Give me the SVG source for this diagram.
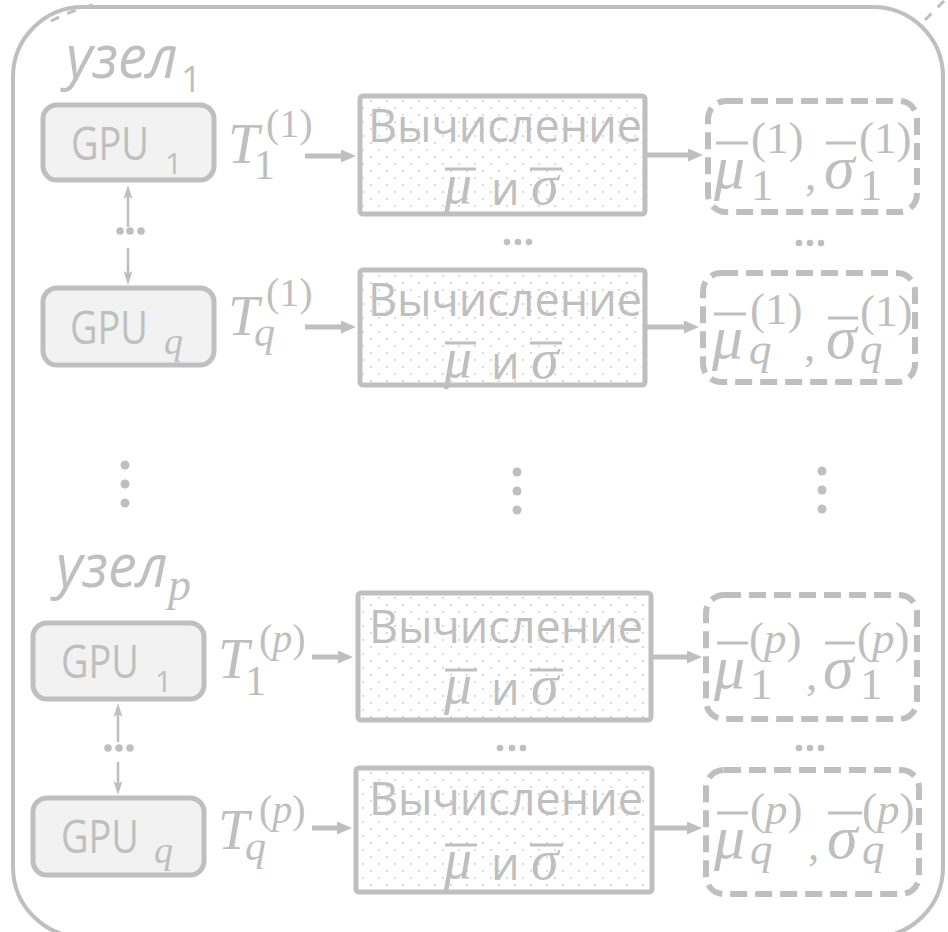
<svg xmlns="http://www.w3.org/2000/svg" width="948" height="932" viewBox="0 0 948 932">
  <style>
    .frame { fill: none; stroke: #bfbfbf; stroke-width: 4; }
    .frag { fill: none; stroke: #bfbfbf; stroke-width: 3; stroke-dasharray: 9 9; }
    .gpu rect { fill: #f2f2f2; stroke: #bfbfbf; stroke-width: 5; }
    .calc rect { fill: url(#dots); stroke: #bfbfbf; stroke-width: 5; }
    .res rect { fill: none; stroke: #bfbfbf; stroke-width: 6; stroke-dasharray: 17 8; }
    .t-sans { font-family: "Open Sans", "DejaVu Sans", sans-serif; fill: #bfbfbf; }
    .t-sans-it { font-family: "Open Sans", "DejaVu Sans", sans-serif; font-style: italic; fill: #bfbfbf; }
    .t-it { font-family: "Liberation Serif", "DejaVu Serif", serif; font-style: italic; fill: #bfbfbf; }
    .t-up { font-family: "Liberation Serif", "DejaVu Serif", serif; font-style: normal; fill: #bfbfbf; }
    .bar { stroke: #bfbfbf; stroke-width: 3; }
    .thick { stroke: #bfbfbf; stroke-width: 5; fill: none; }
    .thin { stroke: #bfbfbf; stroke-width: 2.5; fill: none; }
    .dot { fill: #bfbfbf; }
  </style>
  <defs>
    <pattern id="dots" width="16" height="14" patternUnits="userSpaceOnUse">
      <rect width="16" height="14" fill="#ffffff"/>
      <circle cx="3" cy="3" r="0.9" fill="#c8c8c8"/>
      <circle cx="11" cy="10" r="0.9" fill="#c8c8c8"/>
    </pattern>
    <marker id="arr" markerUnits="userSpaceOnUse" markerWidth="16" markerHeight="14" refX="4" refY="6.5" orient="auto">
      <path d="M0,0 L15,6.5 L0,13 z" fill="#bfbfbf"/>
    </marker>
    <marker id="arr-thin" markerUnits="userSpaceOnUse" markerWidth="15" markerHeight="10" refX="3" refY="4.5" orient="auto">
      <path d="M0,0 L14,4.5 L0,9 L3,4.5 z" fill="#bfbfbf"/>
    </marker>
  </defs>

  <!-- outer cluster frame -->
  <g id="frame">
    <rect class="frame" x="13" y="7" width="930" height="930" rx="70"/>
    <path class="frag" d="M51,21 Q70,11 100,3"/>
    <path class="frag" d="M925,20 L947,-2"/>
  </g>

  <!-- node labels -->
  <g id="label-node1">
    <text class="t-sans-it" x="66" y="78" font-size="60" textLength="112" lengthAdjust="spacingAndGlyphs">узел</text>
    <text class="t-sans" x="181" y="92" font-size="36">1</text>
  </g>
  <g id="label-nodep">
    <text class="t-sans-it" x="56" y="587" font-size="60" textLength="112" lengthAdjust="spacingAndGlyphs">узел</text>
    <text class="t-it" x="168" y="600" font-size="46">p</text>
  </g>

  <!-- GPU nodes -->
  <g id="gpu-1-1" class="gpu">
    <rect x="43" y="105" width="171" height="75" rx="14"/>
    <text class="t-sans" x="71" y="160" font-size="46" textLength="78" lengthAdjust="spacingAndGlyphs">GPU</text>
    <text class="t-sans" x="165" y="174" font-size="30">1</text>
  </g>
  <g id="gpu-1-q" class="gpu">
    <rect x="43" y="288" width="171" height="77" rx="14"/>
    <text class="t-sans" x="70" y="344" font-size="46" textLength="78" lengthAdjust="spacingAndGlyphs">GPU</text>
    <text class="t-it" x="164" y="354" font-size="38">q</text>
  </g>
  <g id="gpu-p-1" class="gpu">
    <rect x="33" y="623" width="171" height="76" rx="14"/>
    <text class="t-sans" x="61" y="678" font-size="46" textLength="78" lengthAdjust="spacingAndGlyphs">GPU</text>
    <text class="t-sans" x="155" y="692" font-size="30">1</text>
  </g>
  <g id="gpu-p-q" class="gpu">
    <rect x="33" y="798" width="171" height="77" rx="14"/>
    <text class="t-sans" x="61" y="853" font-size="46" textLength="78" lengthAdjust="spacingAndGlyphs">GPU</text>
    <text class="t-it" x="154" y="863" font-size="38">q</text>
  </g>

  <!-- input tensor labels -->
  <g id="t-1-1">
    <text class="t-it" x="228" y="163" font-size="56">T</text>
    <text class="t-up" x="254" y="179" font-size="42">1</text>
    <text class="t-up" x="266" y="137" font-size="40">(1)</text>
  </g>
  <g id="t-1-q">
    <text class="t-it" x="228" y="335" font-size="56">T</text>
    <text class="t-it" x="254" y="346" font-size="42">q</text>
    <text class="t-up" x="266" y="306" font-size="40">(1)</text>
  </g>
  <g id="t-p-1">
    <text class="t-it" x="218" y="678" font-size="56">T</text>
    <text class="t-up" x="245" y="695" font-size="42">1</text>
    <text class="t-up" x="259" y="652" font-size="40">(<tspan class="t-it">p</tspan>)</text>
  </g>
  <g id="t-p-q">
    <text class="t-it" x="218" y="849" font-size="56">T</text>
    <text class="t-it" x="245" y="860" font-size="42">q</text>
    <text class="t-up" x="259" y="823" font-size="40">(<tspan class="t-it">p</tspan>)</text>
  </g>

  <!-- computation blocks -->
  <g id="calc-1-1" class="calc">
    <rect x="360" y="96" width="285" height="118" rx="3"/>
    <text class="t-sans" x="368" y="142" font-size="46" textLength="274" lengthAdjust="spacingAndGlyphs">Вычисление</text>
    <text class="t-it" x="444" y="203" font-size="56">μ</text>
    <text class="t-sans" x="491" y="205" font-size="45">и</text>
    <text class="t-it" x="531" y="204" font-size="56">σ</text>
    <line class="bar" x1="445" y1="169" x2="476" y2="169"/>
    <line class="bar" x1="530" y1="169" x2="562" y2="169"/>
  </g>
  <g id="calc-1-q" class="calc">
    <rect x="360" y="270" width="285" height="115" rx="3"/>
    <text class="t-sans" x="368" y="316" font-size="46" textLength="274" lengthAdjust="spacingAndGlyphs">Вычисление</text>
    <text class="t-it" x="444" y="377" font-size="56">μ</text>
    <text class="t-sans" x="491" y="379" font-size="45">и</text>
    <text class="t-it" x="531" y="378" font-size="56">σ</text>
    <line class="bar" x1="445" y1="343" x2="476" y2="343"/>
    <line class="bar" x1="530" y1="343" x2="562" y2="343"/>
  </g>
  <g id="calc-p-1" class="calc">
    <rect x="358" y="593" width="293" height="127" rx="3"/>
    <text class="t-sans" x="369" y="643" font-size="46" textLength="274" lengthAdjust="spacingAndGlyphs">Вычисление</text>
    <text class="t-it" x="444" y="703" font-size="56">μ</text>
    <text class="t-sans" x="491" y="705" font-size="45">и</text>
    <text class="t-it" x="531" y="704" font-size="56">σ</text>
    <line class="bar" x1="445" y1="670" x2="477" y2="670"/>
    <line class="bar" x1="530" y1="670" x2="563" y2="670"/>
  </g>
  <g id="calc-p-q" class="calc">
    <rect x="356" y="768" width="296" height="124" rx="3"/>
    <text class="t-sans" x="369" y="815" font-size="46" textLength="274" lengthAdjust="spacingAndGlyphs">Вычисление</text>
    <text class="t-it" x="444" y="878" font-size="56">μ</text>
    <text class="t-sans" x="491" y="880" font-size="45">и</text>
    <text class="t-it" x="531" y="879" font-size="56">σ</text>
    <line class="bar" x1="445" y1="845" x2="477" y2="845"/>
    <line class="bar" x1="530" y1="845" x2="563" y2="845"/>
  </g>

  <!-- resulting statistics -->
  <g id="res-1-1" class="res">
    <rect x="708" y="101" width="209" height="111" rx="18"/>
    <text class="t-it" x="714" y="188" font-size="62">μ</text>
    <line class="bar" x1="716" y1="143" x2="748" y2="143"/>
    <text class="t-up" x="751" y="153" font-size="45">(1)</text>
    <text class="t-up" x="751" y="200" font-size="45">1</text>
    <text class="t-up" x="805" y="190" font-size="45">,</text>
    <text class="t-it" x="824" y="188" font-size="62">σ</text>
    <line class="bar" x1="826" y1="143" x2="856" y2="143"/>
    <text class="t-up" x="859" y="153" font-size="45">(1)</text>
    <text class="t-up" x="860" y="200" font-size="45">1</text>
  </g>
  <g id="res-1-q" class="res">
    <rect x="703" y="273" width="212" height="109" rx="18"/>
    <text class="t-it" x="712" y="358" font-size="62">μ</text>
    <line class="bar" x1="714" y1="314" x2="746" y2="314"/>
    <text class="t-up" x="750" y="324" font-size="45">(1)</text>
    <text class="t-it" x="749" y="364" font-size="45">q</text>
    <text class="t-up" x="804" y="361" font-size="45">,</text>
    <text class="t-it" x="826" y="358" font-size="62">σ</text>
    <line class="bar" x1="828" y1="318" x2="858" y2="318"/>
    <text class="t-up" x="860" y="326" font-size="45">(1)</text>
    <text class="t-it" x="860" y="364" font-size="45">q</text>
  </g>
  <g id="res-p-1" class="res">
    <rect x="706" y="595" width="211" height="124" rx="18"/>
    <text class="t-it" x="714" y="688" font-size="62">μ</text>
    <line class="bar" x1="717" y1="643" x2="748" y2="643"/>
    <text class="t-up" x="749" y="653" font-size="45">(<tspan class="t-it">p</tspan>)</text>
    <text class="t-up" x="750" y="699" font-size="45">1</text>
    <text class="t-up" x="806" y="690" font-size="45">,</text>
    <text class="t-it" x="823" y="688" font-size="62">σ</text>
    <line class="bar" x1="825" y1="643" x2="855" y2="643"/>
    <text class="t-up" x="857" y="653" font-size="45">(<tspan class="t-it">p</tspan>)</text>
    <text class="t-up" x="860" y="699" font-size="45">1</text>
  </g>
  <g id="res-p-q" class="res">
    <rect x="706" y="770" width="213" height="124" rx="18"/>
    <text class="t-it" x="714" y="858" font-size="62">μ</text>
    <line class="bar" x1="717" y1="813" x2="748" y2="813"/>
    <text class="t-up" x="750" y="824" font-size="45">(<tspan class="t-it">p</tspan>)</text>
    <text class="t-it" x="750" y="864" font-size="45">q</text>
    <text class="t-up" x="808" y="860" font-size="45">,</text>
    <text class="t-it" x="827" y="858" font-size="62">σ</text>
    <line class="bar" x1="828" y1="813" x2="862" y2="813"/>
    <text class="t-up" x="862" y="824" font-size="45">(<tspan class="t-it">p</tspan>)</text>
    <text class="t-it" x="862" y="864" font-size="45">q</text>
  </g>

  <!-- connectors -->
  <g id="connectors">
    <!-- tensors into computation blocks -->
    <line class="thick" x1="305" y1="156" x2="345" y2="156" marker-end="url(#arr)"/>
    <line class="thick" x1="305" y1="327" x2="345" y2="327" marker-end="url(#arr)"/>
    <line class="thick" x1="312" y1="657" x2="342" y2="657" marker-end="url(#arr)"/>
    <line class="thick" x1="312" y1="828" x2="341" y2="828" marker-end="url(#arr)"/>
    <!-- computation blocks into statistics -->
    <line class="thick" x1="647" y1="155" x2="692" y2="155" marker-end="url(#arr)"/>
    <line class="thick" x1="647" y1="327" x2="688" y2="327" marker-end="url(#arr)"/>
    <line class="thick" x1="653" y1="657" x2="691" y2="657" marker-end="url(#arr)"/>
    <line class="thick" x1="654" y1="828" x2="691" y2="828" marker-end="url(#arr)"/>
    <!-- links between GPUs inside a node -->
    <line class="thin" x1="128" y1="227" x2="128" y2="196" marker-end="url(#arr-thin)"/>
    <line class="thin" x1="128" y1="248" x2="128" y2="274" marker-end="url(#arr-thin)"/>
    <line class="thin" x1="118" y1="742" x2="118" y2="714" marker-end="url(#arr-thin)"/>
    <line class="thin" x1="118" y1="762" x2="118" y2="784" marker-end="url(#arr-thin)"/>
  </g>

  <!-- ellipses -->
  <g id="ellipses">
    <circle class="dot" cx="120" cy="231" r="3.8"/>
    <circle class="dot" cx="130" cy="231" r="3.8"/>
    <circle class="dot" cx="141" cy="231" r="3.8"/>
    <circle class="dot" cx="108" cy="748" r="3.8"/>
    <circle class="dot" cx="119" cy="748" r="3.8"/>
    <circle class="dot" cx="130" cy="748" r="3.8"/>

    <circle class="dot" cx="507" cy="242" r="3.3"/>
    <circle class="dot" cx="518" cy="242" r="3.3"/>
    <circle class="dot" cx="529" cy="242" r="3.3"/>
    <circle class="dot" cx="799" cy="243" r="3.3"/>
    <circle class="dot" cx="810" cy="243" r="3.3"/>
    <circle class="dot" cx="821" cy="243" r="3.3"/>
    <circle class="dot" cx="500" cy="748" r="3.3"/>
    <circle class="dot" cx="512" cy="748" r="3.3"/>
    <circle class="dot" cx="523" cy="748" r="3.3"/>
    <circle class="dot" cx="799" cy="748" r="3.3"/>
    <circle class="dot" cx="810" cy="748" r="3.3"/>
    <circle class="dot" cx="821" cy="748" r="3.3"/>

    <circle class="dot" cx="125" cy="465" r="4.5"/>
    <circle class="dot" cx="125" cy="484" r="4.5"/>
    <circle class="dot" cx="125" cy="503" r="4.5"/>
    <circle class="dot" cx="517" cy="472" r="4.5"/>
    <circle class="dot" cx="517" cy="491" r="4.5"/>
    <circle class="dot" cx="517" cy="510" r="4.5"/>
    <circle class="dot" cx="822" cy="471" r="4.5"/>
    <circle class="dot" cx="822" cy="490" r="4.5"/>
    <circle class="dot" cx="822" cy="509" r="4.5"/>
  </g>
</svg>
